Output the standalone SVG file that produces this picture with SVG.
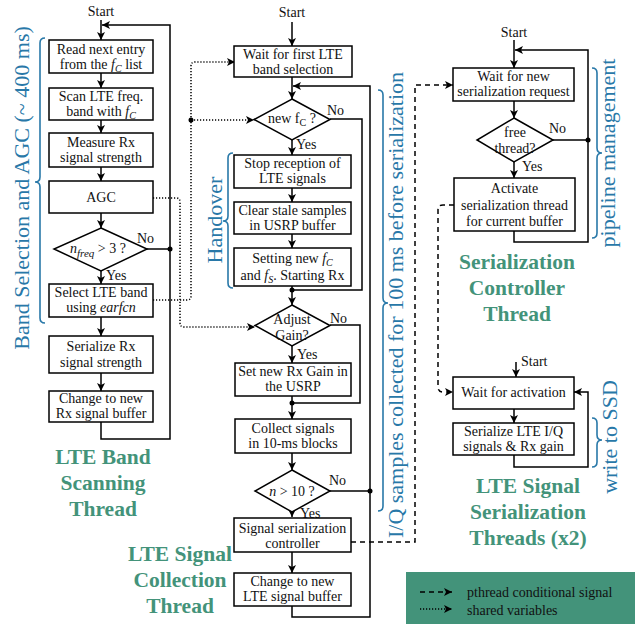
<svg xmlns="http://www.w3.org/2000/svg" width="635" height="624" viewBox="0 0 635 624">
<defs>
<marker id="ah" markerUnits="userSpaceOnUse" markerWidth="9" markerHeight="8" refX="8" refY="4" orient="auto"><path d="M0,0 L8,4 L0,8 L2,4 z" fill="#000"/></marker>
<style>
.box{fill:#fff;stroke:#000;stroke-width:1.5}
.t{font-family:"Liberation Serif",serif;font-size:14px;fill:#111;text-anchor:middle}
.l{font-family:"Liberation Serif",serif;font-size:14px;fill:#111}
.c{fill:none;stroke:#000;stroke-width:1.5}
.a{marker-end:url(#ah)}
.dash{fill:none;stroke:#000;stroke-width:1.5;stroke-dasharray:5,4}
.dot{fill:none;stroke:#000;stroke-width:1.5;stroke-dasharray:1.2,1.8}
.br{fill:none;stroke:#2878a8;stroke-width:1.6}
.bt{font-family:"Liberation Serif",serif;font-size:22px;fill:#2878a8;text-anchor:middle}
.g{font-family:"Liberation Serif",serif;font-size:21.5px;font-weight:bold;fill:#43937a;text-anchor:middle}
.i{font-style:italic}
</style>
</defs>

<g id="connectors">
<!-- column 1 -->
<path class="c a" d="M101,20 V40"/>
<path class="c a" d="M101,73 V88"/>
<path class="c a" d="M101,120 V133"/>
<path class="c a" d="M101,167 V181"/>
<path class="c a" d="M101,213 V228"/>
<path class="c a" d="M101,271 V284"/>
<path class="c a" d="M101,317 V336"/>
<path class="c a" d="M101,373 V391"/>
<path class="c a" d="M101,422 V439 H170 V25 H102"/>
<path class="c" d="M147,249 H170"/>
<circle cx="170" cy="249" r="2.5"/>
<!-- column 2 -->
<path class="c a" d="M292,22 V46"/>
<path class="c a" d="M292,77 V99"/>
<path class="c a" d="M292,606 V617 H370 V86 H293"/>
<path class="c a" d="M292,140 V155"/>
<path class="c" d="M330,119 H362 V290 H292"/>
<circle cx="292" cy="290" r="2.5"/>
<path class="c a" d="M292,188 V202"/>
<path class="c a" d="M292,234 V248"/>
<path class="c a" d="M292,286 V305"/>
<path class="c a" d="M292,346 V363"/>
<path class="c" d="M330,325 H360 V403 H292"/>
<circle cx="292" cy="403" r="2.5"/>
<path class="c a" d="M292,396 V419"/>
<path class="c a" d="M292,453 V470"/>
<path class="c a" d="M292,512 V517"/>
<path class="c" d="M330,491 H370"/>
<circle cx="370" cy="491" r="2.5"/>
<path class="c a" d="M292,552 V573"/>
<!-- column 3 -->
<path class="c a" d="M514,40 V68"/>
<path class="c a" d="M514,231 V242 H588 V50 H515"/>
<path class="c a" d="M514,101 V118"/>
<path class="c a" d="M514,162 V178"/>
<path class="c" d="M553,140 H588"/>
<circle cx="588" cy="140" r="2.5"/>
<!-- column 4 -->
<path class="c a" d="M516,362 V377"/>
<path class="c a" d="M514,409 V423"/>
<path class="c a" d="M514,455 V467 H588 V392 H574"/>
<!-- pthread conditional signals -->
<path class="dash a" d="M351,542 H415 V85 H453"/>
<path class="dash a" d="M454,205 H443 Q438,205 438,210 V387 Q438,392 443,392 H453"/>
<!-- shared variables -->
<path class="dot a" d="M153,198 H176 Q180,198 180,202 V323 Q180,327 184,327 H255"/>
<path class="dot a" d="M153,300 H187 Q191,300 191,296 V66 Q191,62 195,62 H235"/>
<path class="dot a" d="M191,120 H254"/>
<circle cx="191" cy="120" r="2.5"/>
</g>

<!-- Column 1: LTE Band Scanning Thread -->
<g id="start1"><text class="t" x="101" y="16">Start</text></g>
<g id="c1b1"><rect class="box" x="49" y="40" width="104" height="33"/>
<text class="t" x="101" y="53.5">Read next entry</text>
<text class="t" x="101" y="68.5">from the <tspan class="i">f</tspan><tspan class="i" font-size="10" dy="3">C</tspan><tspan dy="-3"> list</tspan></text></g>
<g id="c1b2"><rect class="box" x="49" y="88" width="104" height="32"/>
<text class="t" x="101" y="101">Scan LTE freq.</text>
<text class="t" x="101" y="116">band with <tspan class="i">f</tspan><tspan class="i" font-size="10" dy="3">C</tspan></text></g>
<g id="c1b3"><rect class="box" x="49" y="133" width="104" height="34"/>
<text class="t" x="101" y="147">Measure Rx</text>
<text class="t" x="101" y="162">signal strength</text></g>
<g id="c1b4"><rect class="box" x="49" y="181" width="104" height="32"/>
<text class="t" x="101" y="202">AGC</text></g>
<g id="c1d1"><path class="box" d="M101,228 L147,249 L101,271 L54,249 z"/>
<text class="l" x="70" y="253"><tspan class="i">n</tspan><tspan class="i" font-size="11" dy="4">freq</tspan><tspan dy="-4"> &gt; 3 ?</tspan></text>
<text class="l" x="137" y="243">No</text>
<text class="l" x="106" y="280">Yes</text></g>
<g id="c1b5"><rect class="box" x="49" y="284" width="104" height="33"/>
<text class="t" x="101" y="297">Select LTE band</text>
<text class="t" x="101" y="312">using <tspan class="i">earfcn</tspan></text></g>
<g id="c1b6"><rect class="box" x="49" y="336" width="104" height="37"/>
<text class="t" x="101" y="351">Serialize Rx</text>
<text class="t" x="101" y="367">signal strength</text></g>
<g id="c1b7"><rect class="box" x="49" y="391" width="104" height="31"/>
<text class="t" x="101" y="403">Change to new</text>
<text class="t" x="101" y="418">Rx signal buffer</text></g>
<g id="title1"><text class="g" x="103" y="464">LTE Band</text><text class="g" x="103" y="490">Scanning</text><text class="g" x="103" y="516">Thread</text></g>
<g id="brace1"><path class="br" d="M45,38 Q40,38 40,43 V177 Q40,182 35,182 Q40,182 40,187 V318 Q40,323 45,323"/>
<text class="bt" font-size="21.5" transform="translate(29,188) rotate(-90)">Band Selection and AGC (~ 400 ms)</text></g>

<!-- Column 2: LTE Signal Collection Thread -->
<g id="start2"><text class="t" x="292" y="17">Start</text></g>
<g id="c2b1"><rect class="box" x="234" y="46" width="118" height="31"/>
<text class="t" x="293" y="59">Wait for first LTE</text>
<text class="t" x="293" y="74">band selection</text></g>
<g id="c2d1"><path class="box" d="M292,99 L330,119.5 L292,140 L254,119.5 z"/>
<text class="t" x="292" y="123">new f<tspan font-size="10" dy="3">C</tspan><tspan dy="-3"> ?</tspan></text>
<text class="l" x="327" y="115">No</text>
<text class="l" x="296" y="149">Yes</text></g>
<g id="c2b2"><rect class="box" x="234" y="155" width="117" height="33"/>
<text class="t" x="292.5" y="168">Stop reception of</text>
<text class="t" x="292.5" y="183">LTE signals</text></g>
<g id="c2b3"><rect class="box" x="234" y="202" width="117" height="32"/>
<text class="t" x="292.5" y="215">Clear stale samples</text>
<text class="t" x="292.5" y="230">in USRP buffer</text></g>
<g id="c2b4"><rect class="box" x="234" y="248" width="117" height="38"/>
<text class="t" x="292.5" y="263">Setting new <tspan class="i">f</tspan><tspan class="i" font-size="10" dy="3">C</tspan></text>
<text class="t" x="292.5" y="280">and <tspan class="i">f</tspan><tspan class="i" font-size="10" dy="3">S</tspan><tspan dy="-3">. Starting Rx</tspan></text></g>
<g id="brace2"><path class="br" d="M233,153 Q228,153 228,158 V216 Q228,221 223,221 Q228,221 228,226 V283 Q228,288 233,288"/>
<text class="bt" transform="translate(222,220) rotate(-90)">Handover</text></g>
<g id="c2d2"><path class="box" d="M292,305 L330,325.5 L292,346 L255,325.5 z"/>
<text class="t" x="292" y="324">Adjust</text>
<text class="t" x="292" y="340">Gain?</text>
<text class="l" x="330" y="323">No</text>
<text class="l" x="297" y="359">Yes</text></g>
<g id="c2b5"><rect class="box" x="235" y="363" width="116" height="33"/>
<text class="t" x="293" y="376">Set new Rx Gain in</text>
<text class="t" x="293" y="391">the USRP</text></g>
<g id="c2b6"><rect class="box" x="235" y="419" width="116" height="34"/>
<text class="t" x="293" y="433">Collect signals</text>
<text class="t" x="293" y="448">in 10-ms blocks</text></g>
<g id="c2d3"><path class="box" d="M292,470 L330,491 L292,512 L255,491 z"/>
<text class="t" x="292" y="496"><tspan class="i">n</tspan> &gt; 10 ?</text>
<text class="l" x="329" y="485">No</text>
<text class="l" x="300" y="518" font-size="13">Yes</text></g>
<g id="c2b7"><rect class="box" x="234" y="518" width="117" height="34"/>
<text class="t" x="292.5" y="533">Signal serialization</text>
<text class="t" x="292.5" y="548">controller</text></g>
<g id="c2b8"><rect class="box" x="234" y="573" width="117" height="33"/>
<text class="t" x="292.5" y="586">Change to new</text>
<text class="t" x="292.5" y="601">LTE signal buffer</text></g>
<g id="title2"><text class="g" x="180" y="561">LTE Signal</text><text class="g" x="180" y="587">Collection</text><text class="g" x="180" y="613">Thread</text></g>
<g id="brace3"><path class="br" d="M378,90 Q383,90 383,95 V298 Q383,303 388,303 Q383,303 383,308 V506 Q383,511 378,511"/>
<text class="bt" transform="translate(403,305) rotate(-90)">I/Q samples collected for 100 ms before serialization</text></g>

<!-- Column 3: Serialization Controller Thread -->
<g id="start3"><text class="t" x="514" y="37">Start</text></g>
<g id="c3b1"><rect class="box" x="453" y="68" width="121" height="33"/>
<text class="t" x="513.5" y="81">Wait for new</text>
<text class="t" x="513.5" y="96">serialization request</text></g>
<g id="c3d1"><path class="box" d="M514,118 L553,140 L514,162 L477,140 z"/>
<text class="t" x="515" y="137">free</text>
<text class="t" x="515" y="153">thread?</text>
<text class="l" x="549" y="133">No</text>
<text class="l" x="522" y="171">Yes</text></g>
<g id="c3b2"><rect class="box" x="454" y="178" width="121" height="53"/>
<text class="t" x="514.5" y="193">Activate</text>
<text class="t" x="514.5" y="209.5">serialization thread</text>
<text class="t" x="514.5" y="226">for current buffer</text></g>
<g id="title3"><text class="g" x="517" y="269">Serialization</text><text class="g" x="517" y="295">Controller</text><text class="g" x="517" y="321">Thread</text></g>
<g id="brace4"><path class="br" d="M592,68 Q597,68 597,73 V148 Q597,153 602,153 Q597,153 597,158 V233 Q597,238 592,238"/>
<text class="bt" transform="translate(615,153) rotate(-90)">pipeline management</text></g>

<!-- Column 4: LTE Signal Serialization Threads -->
<g id="start4"><text class="l" x="521" y="366" font-size="13">Start</text></g>
<g id="c4b1"><rect class="box" x="453" y="377" width="121" height="32"/>
<text class="t" x="513.5" y="397">Wait for activation</text></g>
<g id="c4b2"><rect class="box" x="453" y="423" width="121" height="32"/>
<text class="t" x="513.5" y="436">Serialize LTE I/Q</text>
<text class="t" x="513.5" y="451">signals &amp; Rx gain</text></g>
<g id="title4"><text class="g" x="528" y="493">LTE Signal</text><text class="g" x="528" y="519">Serialization</text><text class="g" x="528" y="545">Threads (x2)</text></g>
<g id="brace5"><path class="br" d="M592,418 Q597,418 597,423 V435 Q597,440 602,440 Q597,440 597,445 V462 Q597,467 592,467"/>
<text class="bt" transform="translate(617,437) rotate(-90)">write to SSD</text></g>

<!-- Legend -->
<g id="legend">
<rect x="406" y="572" width="229" height="52" fill="#43937a"/>
<path class="dash a" d="M420,592 H452"/>
<path class="dot a" d="M420,609 H452"/>
<text class="l" x="467" y="597" font-size="15">pthread conditional signal</text>
<text class="l" x="467" y="615" font-size="15">shared variables</text>
</g>
</svg>
